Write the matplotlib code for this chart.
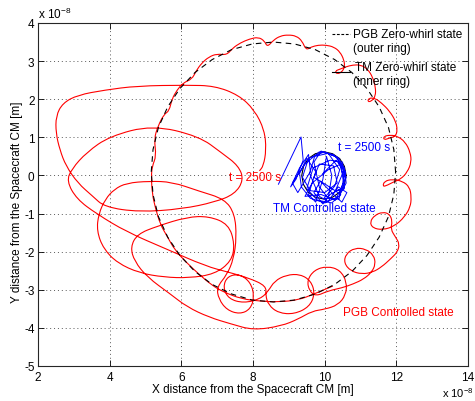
import numpy as np
import matplotlib
matplotlib.use('Agg')
import matplotlib.pyplot as plt
from matplotlib.path import Path
from matplotlib.patches import PathPatch

plt.rcParams['font.family'] = ['Liberation Sans', 'DejaVu Sans']
plt.rcParams['font.size'] = 8.5
plt.rcParams['mathtext.fontset'] = 'custom'
plt.rcParams['mathtext.rm'] = 'Liberation Sans'
plt.rcParams['axes.unicode_minus'] = False

# positions in units of 1e-8 m
# PGB controlled trajectory, in time order (split in pieces for readability)
pgb_lap1 = [(10.23, -2.90), (9.71, -3.11), (9.26, -3.27), (8.71, -3.32), (8.21, -3.30), (7.68, -3.24),
            (7.18, -3.06), (6.85, -2.88), (6.49, -2.59), (6.16, -2.30), (5.82, -1.96), (5.60, -1.59),
            (5.41, -1.28), (5.27, -0.83), (5.19, -0.49), (5.16, -0.02), (5.19, 0.25), (5.30, 0.51),
            (5.24, 0.96), (5.35, 1.30), (5.52, 1.61), (5.66, 1.69), (5.74, 2.01), (5.88, 2.24),
            (6.05, 2.43), (6.30, 2.53)]
pgb_top = [(6.41, 2.74), (6.57, 2.95), (6.77, 3.11), (6.99, 3.19), (7.27, 3.16), (7.43, 3.34),
           (7.65, 3.48), (7.90, 3.58), (8.15, 3.63), (8.32, 3.53), (8.40, 3.37), (8.57, 3.55),
           (8.76, 3.66), (8.98, 3.69), (9.21, 3.66), (9.37, 3.53), (9.48, 3.29), (9.62, 3.37),
           (9.82, 3.42), (10.04, 3.42), (10.26, 3.37), (10.43, 3.24), (10.54, 3.03), (10.56, 2.85)]
pgb_right = [(10.48, 2.71), (10.34, 2.66), (10.29, 2.74), (10.43, 2.79), (10.59, 2.85), (10.79, 2.90),
             (11.01, 2.90), (11.20, 2.79), (11.34, 2.58), (11.42, 2.32), (11.42, 2.08), (11.31, 1.95),
             (11.20, 1.93), (11.23, 2.03), (11.40, 2.03), (11.59, 1.90), (11.81, 1.69), (11.98, 1.43),
             (12.03, 1.19), (11.98, 1.03), (11.81, 0.98), (11.65, 0.93), (11.65, 1.03), (11.84, 1.06),
             (12.03, 1.03), (12.25, 0.88), (12.39, 0.61), (12.42, 0.35), (12.31, 0.09), (12.12, -0.10),
             (11.92, -0.17), (11.70, -0.28), (11.62, -0.28), (11.67, -0.15), (11.89, -0.10), (12.17, -0.15),
             (12.37, -0.30), (12.42, -0.57), (12.39, -0.83), (12.23, -1.09), (11.95, -1.33), (11.62, -1.43),
             (11.34, -1.38), (11.26, -1.22), (11.40, -1.04), (11.62, -0.96), (11.81, -1.01), (11.89, -1.20),
             (11.84, -1.41), (11.98, -1.62), (12.09, -1.80), (12.03, -2.01), (11.84, -2.19), (11.59, -2.40),
             (11.34, -2.54), (11.04, -2.59), (10.73, -2.51), (10.54, -2.30), (10.59, -2.06), (10.84, -1.90),
             (11.15, -1.93), (11.37, -2.09), (11.42, -2.33), (11.31, -2.54), (11.09, -2.72), (10.79, -2.85)]
pgb_bottom = [(10.48, -2.95), (10.09, -3.03), (9.76, -3.17), (9.57, -3.03), (9.51, -2.75), (9.71, -2.48),
              (10.07, -2.38), (10.43, -2.48), (10.62, -2.80), (10.59, -3.14), (10.37, -3.40), (10.01, -3.51),
              (9.65, -3.56), (9.26, -3.77), (8.79, -3.95), (8.01, -4.06), (7.40, -3.90), (6.77, -3.72),
              (6.16, -3.45), (5.69, -3.11), (5.05, -2.67), (4.69, -2.25), (4.58, -1.88), (4.77, -1.54),
              (5.33, -1.33), (6.16, -1.09), (6.77, -1.07), (7.32, -1.28), (7.49, -1.80), (7.40, -2.25),
              (6.93, -2.59), (6.21, -2.69), (5.52, -2.67), (4.83, -2.56), (4.22, -2.30), (3.83, -1.93),
              (3.64, -1.46), (3.69, -1.01), (3.88, -0.62), (4.13, -0.36), (4.47, -0.20), (5.10, -0.15),
              (5.74, -0.17), (6.49, -0.41), (7.21, -0.62), (7.49, -1.01), (7.54, -1.62), (7.46, -2.19),
              (7.27, -2.61), (6.99, -2.93), (7.04, -3.24), (7.27, -3.53), (7.63, -3.64), (7.93, -3.51),
              (8.04, -3.17), (7.93, -2.80), (7.63, -2.59), (7.29, -2.64), (7.16, -2.93), (7.32, -3.24),
              (7.74, -3.35), (8.21, -3.24), (8.43, -3.03), (8.60, -2.77), (8.93, -2.61), (9.32, -2.59),
              (9.62, -2.77), (9.73, -3.11), (9.57, -3.45), (9.15, -3.64), (8.71, -3.61), (8.43, -3.40),
              (8.35, -3.14), (8.37, -2.90)]
pgb_left = [(7.88, -2.69), (7.32, -2.54), (6.68, -2.38), (5.58, -1.93), (4.47, -1.48), (3.64, -1.01),
            (3.08, -0.62), (2.80, -0.15), (2.94, 0.17), (3.36, 0.61), (4.00, 1.03), (5.19, 1.32),
            (6.49, 1.03), (7.13, 0.59), (7.60, 0.25), (7.74, -0.12), (7.49, -0.49), (6.93, -0.70),
            (6.02, -0.88), (4.83, -0.96), (3.86, -0.83), (3.52, -0.54), (3.11, -0.20), (2.78, 0.25),
            (2.61, 0.67), (2.50, 1.11), (2.50, 1.56), (2.69, 1.90), (3.11, 2.11), (3.86, 2.24),
            (4.77, 2.35), (6.16, 2.37), (6.93, 2.35), (7.60, 2.11), (8.04, 1.72), (8.32, 1.19),
            (8.37, 0.67), (8.29, 0.25), (8.18, 0.12)]

# TM controlled trajectory
tm_path = [(8.71, -0.23), (9.34, 1.01), (9.40, 0.40), (9.20, -0.10), (9.05, -0.30), (9.30, 0.20),
           (9.55, 0.55), (9.60, 0.10), (9.25, -0.45), (9.10, -0.20), (9.45, 0.30), (9.85, 0.62),
           (10.25, 0.55), (10.55, 0.20), (10.60, -0.20), (10.40, -0.55), (10.00, -0.72), (9.60, -0.60),
           (9.35, -0.30), (9.30, 0.05), (9.50, 0.45), (9.75, 0.10), (9.55, -0.50), (9.75, -0.70),
           (9.95, -0.10), (10.05, 0.50), (10.20, 0.00), (10.10, -0.60), (9.85, -0.30), (9.70, 0.35),
           (9.90, 0.64), (10.35, 0.48), (10.50, 0.05), (10.30, -0.40), (10.55, -0.35), (10.45, 0.30),
           (10.10, 0.15), (9.65, -0.20), (9.45, -0.55), (9.90, -0.50), (10.30, -0.65), (10.60, -0.05),
           (10.40, 0.45), (10.00, 0.62), (9.55, 0.45), (9.38, -0.05), (9.60, -0.40), (10.00, -0.45),
           (10.35, -0.20), (10.25, 0.25), (9.85, 0.30), (9.70, -0.05), (10.05, -0.25), (10.45, -0.50),
           (10.20, -0.72), (9.80, -0.65), (9.50, -0.35), (9.68, 0.20), (10.15, 0.40), (10.50, 0.35),
           (10.55, -0.30), (10.15, -0.50), (9.95, -0.75), (9.70, -0.45), (9.88, -0.15), (10.30, -0.55),
           (10.48, -0.70), (10.62, -0.45), (10.38, -0.30), (10.10, -0.68), (9.85, -0.55), (9.58, 0.05),
           (9.72, 0.50), (10.10, 0.58), (10.42, 0.15), (10.28, -0.28), (9.98, -0.60), (10.40, -0.62),
           (10.58, 0.10), (10.32, 0.40), (9.95, 0.05)]

# zero-whirl rings
outer_x = [11.98, 11.93, 11.78, 11.52, 11.18, 10.76, 10.28, 9.74, 9.16, 8.57, 7.98, 7.40, 6.86, 6.38,
           5.96, 5.62, 5.36, 5.21, 5.16, 5.21, 5.36, 5.62, 5.96, 6.38, 6.86, 7.40, 7.98, 8.57, 9.16,
           9.74, 10.28, 10.76, 11.18, 11.52, 11.78, 11.93, 11.98]
outer_y = [0.09, 0.68, 1.26, 1.80, 2.28, 2.70, 3.04, 3.30, 3.45, 3.50, 3.45, 3.30, 3.04, 2.70, 2.28,
           1.80, 1.26, 0.68, 0.09, -0.50, -1.08, -1.62, -2.10, -2.52, -2.86, -3.11, -3.27, -3.32, -3.27,
           -3.11, -2.86, -2.52, -2.10, -1.62, -1.08, -0.50, 0.09]
inner_x = [10.60, 10.55, 10.42, 10.22, 9.98, 9.74, 9.54, 9.41, 9.36, 9.41, 9.54, 9.74, 9.98, 10.22,
           10.42, 10.55, 10.60]
inner_y = [0.00, 0.24, 0.44, 0.57, 0.62, 0.57, 0.44, 0.24, 0.00, -0.24, -0.44, -0.57, -0.62, -0.57,
           -0.44, -0.24, 0.00]

red = '#ff0000'
blue = '#0000ff'


def smooth_path(points):
    pts = np.asarray(points, dtype=float)
    verts = [pts[0]]
    codes = [Path.MOVETO]
    for i in range(1, len(pts) - 1):
        verts += [pts[i], (pts[i] + pts[i + 1]) / 2]
        codes += [Path.CURVE3, Path.CURVE3]
    verts.append(pts[-1])
    codes.append(Path.LINETO)
    return Path(verts, codes)


fig = plt.figure(figsize=(4.75, 4.02), dpi=100)
ax = fig.add_axes([38 / 475, 35 / 402, 430 / 475, 343 / 402])

pgb = pgb_lap1 + pgb_top + pgb_right + pgb_bottom + pgb_left
ax.add_patch(PathPatch(smooth_path(pgb), fill=False, edgecolor=red, lw=0.8))
ax.plot(outer_x, outer_y, color='black', lw=0.8, linestyle=(0, (5, 4)))
ax.plot(inner_x, inner_y, color='black', lw=0.8)
ax.plot([p[0] for p in tm_path], [p[1] for p in tm_path], color=blue, lw=0.7)

ax.set_xlim(2, 14)
ax.set_ylim(-5, 4)
ax.set_xticks(range(2, 15, 2))
ax.set_yticks(range(-5, 5))
ax.tick_params(direction='in', length=4, width=0.6, top=True, right=True, labelsize=8.5)
ax.tick_params(axis='x', pad=3.5)
ax.tick_params(axis='y', pad=2.5)
ax.grid(True, linestyle=(0, (1, 3)), color='0.35', lw=0.7)
ax.set_axisbelow(True)
for s in ax.spines.values():
    s.set_linewidth(0.8)
    s.set_color('0.15')

ax.set_xlabel('X distance from the Spacecraft CM [m]')
ax.set_ylabel('Y distance from the Spacecraft CM [m]')
ax.xaxis.set_label_coords(0.5, -0.05)
ax.yaxis.set_label_coords(-0.035, 0.48)

# legend drawn by hand, no frame
ax.plot([0.684, 0.725], [0.968, 0.968], transform=ax.transAxes, color='black', lw=0.8,
        linestyle=(0, (2.5, 1.5)))
ax.plot([0.684, 0.725], [0.857, 0.857], transform=ax.transAxes, color='black', lw=0.8)
ax.text(0.732, 0.968, 'PGB Zero-whirl state', transform=ax.transAxes, va='center')
ax.text(0.732, 0.927, '(outer ring)', transform=ax.transAxes, va='center')
ax.text(0.737, 0.872, 'TM Zero-whirl state', transform=ax.transAxes, va='center')
ax.text(0.732, 0.831, '(inner ring)', transform=ax.transAxes, va='center')

ax.text(7.32, -0.04, 't = 2500 s', color=red, va='center')
ax.text(10.37, 0.75, 't = 2500 s', color=blue, va='center')
ax.text(9.98, -0.86, 'TM Controlled state', color=blue, va='center', ha='center')
ax.text(10.51, -3.59, 'PGB Controlled state', color=red, va='center')

fig.text(38 / 475, 1 - 14 / 402, r'x 10$^{-8}$', va='center', ha='left')
fig.text(442 / 475, 1 - 393 / 402, r'x 10$^{-8}$', va='center', ha='left', fontsize=8)

fig.savefig('out.png', dpi=100)
